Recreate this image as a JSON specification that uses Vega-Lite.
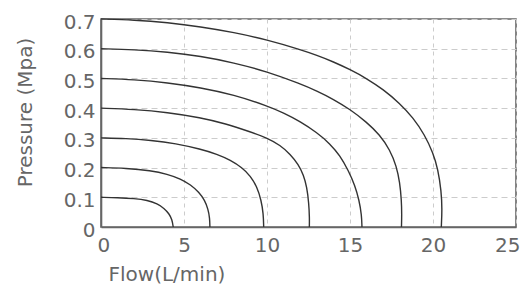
{
  "$schema": "https://vega.github.io/schema/vega-lite/v6.json",
  "width": 415,
  "height": 208,
  "autosize": {"type": "none"},
  "padding": {"left": 101, "top": 19, "right": 10, "bottom": 62},
  "background": "white",
  "config": {"view": {"stroke": "#666", "strokeWidth": 1.6}, "font": "DejaVu Sans"},
  "data": {"values": [
    {"curve": "0.7", "flow": 0, "pressure": 0.7},
    {"curve": "0.7", "flow": 2, "pressure": 0.697},
    {"curve": "0.7", "flow": 4, "pressure": 0.688},
    {"curve": "0.7", "flow": 6, "pressure": 0.674},
    {"curve": "0.7", "flow": 8, "pressure": 0.655},
    {"curve": "0.7", "flow": 10, "pressure": 0.63},
    {"curve": "0.7", "flow": 12, "pressure": 0.597},
    {"curve": "0.7", "flow": 13, "pressure": 0.578},
    {"curve": "0.7", "flow": 14, "pressure": 0.556},
    {"curve": "0.7", "flow": 15, "pressure": 0.53},
    {"curve": "0.7", "flow": 16, "pressure": 0.5},
    {"curve": "0.7", "flow": 17, "pressure": 0.463},
    {"curve": "0.7", "flow": 18, "pressure": 0.416},
    {"curve": "0.7", "flow": 18.8, "pressure": 0.368},
    {"curve": "0.7", "flow": 19.5, "pressure": 0.31},
    {"curve": "0.7", "flow": 20, "pressure": 0.25},
    {"curve": "0.7", "flow": 20.3, "pressure": 0.195},
    {"curve": "0.7", "flow": 20.5, "pressure": 0.12},
    {"curve": "0.7", "flow": 20.55, "pressure": 0.06},
    {"curve": "0.7", "flow": 20.5, "pressure": 0},
    {"curve": "0.6", "flow": 0, "pressure": 0.6},
    {"curve": "0.6", "flow": 2, "pressure": 0.597},
    {"curve": "0.6", "flow": 4, "pressure": 0.589},
    {"curve": "0.6", "flow": 6, "pressure": 0.575},
    {"curve": "0.6", "flow": 8, "pressure": 0.553},
    {"curve": "0.6", "flow": 10, "pressure": 0.523},
    {"curve": "0.6", "flow": 12, "pressure": 0.482},
    {"curve": "0.6", "flow": 13, "pressure": 0.458},
    {"curve": "0.6", "flow": 14, "pressure": 0.43},
    {"curve": "0.6", "flow": 15, "pressure": 0.396},
    {"curve": "0.6", "flow": 16, "pressure": 0.353},
    {"curve": "0.6", "flow": 16.8, "pressure": 0.31},
    {"curve": "0.6", "flow": 17.4, "pressure": 0.26},
    {"curve": "0.6", "flow": 17.8, "pressure": 0.205},
    {"curve": "0.6", "flow": 18, "pressure": 0.15},
    {"curve": "0.6", "flow": 18.1, "pressure": 0.09},
    {"curve": "0.6", "flow": 18.12, "pressure": 0.04},
    {"curve": "0.6", "flow": 18.1, "pressure": 0},
    {"curve": "0.5", "flow": 0, "pressure": 0.5},
    {"curve": "0.5", "flow": 2, "pressure": 0.496},
    {"curve": "0.5", "flow": 4, "pressure": 0.486},
    {"curve": "0.5", "flow": 6, "pressure": 0.469},
    {"curve": "0.5", "flow": 8, "pressure": 0.445},
    {"curve": "0.5", "flow": 10, "pressure": 0.408},
    {"curve": "0.5", "flow": 11, "pressure": 0.384},
    {"curve": "0.5", "flow": 12, "pressure": 0.355},
    {"curve": "0.5", "flow": 13, "pressure": 0.318},
    {"curve": "0.5", "flow": 13.8, "pressure": 0.28},
    {"curve": "0.5", "flow": 14.4, "pressure": 0.24},
    {"curve": "0.5", "flow": 14.9, "pressure": 0.19},
    {"curve": "0.5", "flow": 15.3, "pressure": 0.14},
    {"curve": "0.5", "flow": 15.55, "pressure": 0.09},
    {"curve": "0.5", "flow": 15.7, "pressure": 0.04},
    {"curve": "0.5", "flow": 15.72, "pressure": 0},
    {"curve": "0.4", "flow": 0, "pressure": 0.4},
    {"curve": "0.4", "flow": 2, "pressure": 0.396},
    {"curve": "0.4", "flow": 4, "pressure": 0.386},
    {"curve": "0.4", "flow": 6, "pressure": 0.368},
    {"curve": "0.4", "flow": 7.5, "pressure": 0.348},
    {"curve": "0.4", "flow": 9, "pressure": 0.32},
    {"curve": "0.4", "flow": 10, "pressure": 0.3},
    {"curve": "0.4", "flow": 10.8, "pressure": 0.275},
    {"curve": "0.4", "flow": 11.4, "pressure": 0.245},
    {"curve": "0.4", "flow": 11.9, "pressure": 0.21},
    {"curve": "0.4", "flow": 12.2, "pressure": 0.175},
    {"curve": "0.4", "flow": 12.4, "pressure": 0.135},
    {"curve": "0.4", "flow": 12.52, "pressure": 0.08},
    {"curve": "0.4", "flow": 12.56, "pressure": 0.03},
    {"curve": "0.4", "flow": 12.55, "pressure": 0},
    {"curve": "0.3", "flow": 0, "pressure": 0.3},
    {"curve": "0.3", "flow": 1.5, "pressure": 0.298},
    {"curve": "0.3", "flow": 3, "pressure": 0.292},
    {"curve": "0.3", "flow": 4.5, "pressure": 0.281},
    {"curve": "0.3", "flow": 6, "pressure": 0.262},
    {"curve": "0.3", "flow": 7, "pressure": 0.245},
    {"curve": "0.3", "flow": 7.8, "pressure": 0.225},
    {"curve": "0.3", "flow": 8.5, "pressure": 0.2},
    {"curve": "0.3", "flow": 9, "pressure": 0.172},
    {"curve": "0.3", "flow": 9.4, "pressure": 0.135},
    {"curve": "0.3", "flow": 9.65, "pressure": 0.09},
    {"curve": "0.3", "flow": 9.78, "pressure": 0.045},
    {"curve": "0.3", "flow": 9.8, "pressure": 0},
    {"curve": "0.2", "flow": 0, "pressure": 0.2},
    {"curve": "0.2", "flow": 1.5, "pressure": 0.198},
    {"curve": "0.2", "flow": 3, "pressure": 0.19},
    {"curve": "0.2", "flow": 4, "pressure": 0.178},
    {"curve": "0.2", "flow": 4.8, "pressure": 0.162},
    {"curve": "0.2", "flow": 5.4, "pressure": 0.142},
    {"curve": "0.2", "flow": 5.9, "pressure": 0.117},
    {"curve": "0.2", "flow": 6.25, "pressure": 0.09},
    {"curve": "0.2", "flow": 6.45, "pressure": 0.06},
    {"curve": "0.2", "flow": 6.55, "pressure": 0.03},
    {"curve": "0.2", "flow": 6.56, "pressure": 0},
    {"curve": "0.1", "flow": 0, "pressure": 0.1},
    {"curve": "0.1", "flow": 1, "pressure": 0.099},
    {"curve": "0.1", "flow": 2, "pressure": 0.096},
    {"curve": "0.1", "flow": 2.8, "pressure": 0.09},
    {"curve": "0.1", "flow": 3.4, "pressure": 0.078},
    {"curve": "0.1", "flow": 3.8, "pressure": 0.063},
    {"curve": "0.1", "flow": 4.1, "pressure": 0.045},
    {"curve": "0.1", "flow": 4.28, "pressure": 0.025},
    {"curve": "0.1", "flow": 4.35, "pressure": 0}
  ]},
  "mark": {"type": "line", "interpolate": "basis", "color": "#333", "strokeWidth": 1.4},
  "encoding": {
    "detail": {"field": "curve", "type": "nominal"},
    "order": {"field": "pressure", "sort": "descending"},
    "x": {
      "field": "flow", "type": "quantitative",
      "scale": {"domain": [0, 25], "nice": false},
      "axis": {
        "values": [0, 5, 10, 15, 20, 25],
        "title": "Flow(L/min)",
        "grid": true, "gridDash": [4, 4], "gridColor": "#ccc",
        "domainColor": "#666", "domainWidth": 1.6,
        "ticks": false,
        "labelFontSize": 20, "labelColor": "#666", "labelPadding": 8,
        "labelFlush": true, "labelFlushOffset": 4,
        "titleFontSize": 20, "titleFontWeight": "normal", "titleColor": "#666",
        "titleAnchor": "start", "titleAlign": "left", "titleX": 7, "titleY": 37, "titleBaseline": "top"
      }
    },
    "y": {
      "field": "pressure", "type": "quantitative",
      "scale": {"domain": [0, 0.7], "nice": false},
      "axis": {
        "values": [0, 0.1, 0.2, 0.3, 0.4, 0.5, 0.6, 0.7],
        "format": ".1~f",
        "title": "Pressure (Mpa)",
        "grid": true, "gridDash": [6, 4], "gridColor": "#ccc",
        "domainColor": "#666", "domainWidth": 1.6,
        "ticks": false,
        "labelFontSize": 20, "labelColor": "#666", "labelPadding": 6, "labelOffset": 3, "labelFlush": false,
        "titleFontSize": 20, "titleFontWeight": "normal", "titleColor": "#666",
        "titleAngle": -90, "titleAlign": "center", "titleBaseline": "alphabetic", "titleX": -70, "titleY": 93
      }
    }
  }
}
